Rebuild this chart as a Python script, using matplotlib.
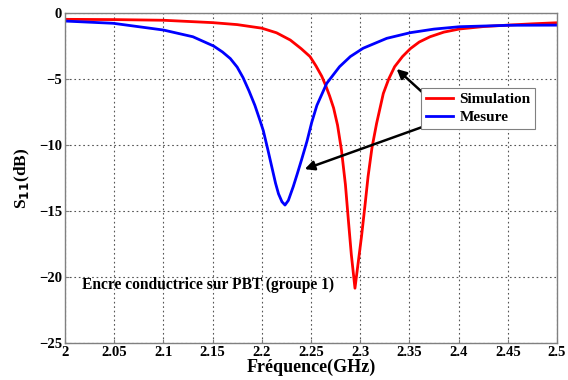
import matplotlib.pyplot as plt

# Simulation (red)
freq_sim = [2.000, 2.050, 2.100, 2.150, 2.175, 2.200, 2.215, 2.229, 2.240, 2.249,
            2.255, 2.261, 2.265, 2.269, 2.273, 2.277, 2.281, 2.285, 2.288, 2.291,
            2.2947, 2.298, 2.3014, 2.305, 2.308, 2.312, 2.3167, 2.3235, 2.329, 2.335,
            2.343, 2.351, 2.360, 2.371, 2.385, 2.401, 2.425, 2.452, 2.475, 2.500]
s11_sim = [-0.48, -0.50, -0.55, -0.73, -0.88, -1.15, -1.5, -2.05, -2.7, -3.3,
           -4.0, -4.8, -5.5, -6.3, -7.2, -8.5, -10.4, -13.0, -15.7, -18.3,
           -20.85, -18.9, -16.9, -14.5, -12.4, -10.2, -8.36, -6.1, -5.0, -4.07,
           -3.3, -2.7, -2.2, -1.8, -1.45, -1.21, -1.03, -0.91, -0.82, -0.74]

# Mesure (blue)
freq_mes = [2.000, 2.049, 2.100, 2.130, 2.151, 2.160, 2.168, 2.175, 2.181, 2.187,
            2.193, 2.198, 2.2015, 2.206, 2.210, 2.214, 2.217, 2.2205, 2.2236, 2.227,
            2.232, 2.236, 2.2405, 2.246, 2.2507, 2.256, 2.266, 2.279, 2.290, 2.303,
            2.327, 2.351, 2.375, 2.401, 2.452, 2.500]
s11_mes = [-0.61, -0.78, -1.29, -1.8, -2.5, -2.95, -3.45, -4.1, -4.9, -5.9,
           -7.0, -8.1, -8.9, -10.3, -11.6, -12.9, -13.7, -14.3, -14.55, -14.2,
           -13.15, -12.2, -11.1, -9.7, -8.3, -7.0, -5.33, -4.07, -3.3, -2.67,
           -1.92, -1.49, -1.22, -1.04, -0.93, -0.92]

xticks = [2, 2.05, 2.1, 2.15, 2.2, 2.25, 2.3, 2.35, 2.4, 2.45, 2.5]
xtick_labels = ['2', '2.05', '2.1', '2.15', '2.2', '2.25', '2.3', '2.35', '2.4', '2.45', '2.5']
yticks = [0, -5, -10, -15, -20, -25]

plt.rcParams['font.family'] = ['Liberation Serif', 'DejaVu Serif']
plt.rcParams['font.weight'] = 'bold'

fig = plt.figure(figsize=(5.68, 3.80), dpi=100)
ax = fig.add_axes([0.1144, 0.0974, 0.8662, 0.8684])

ax.plot(freq_sim, s11_sim, color='#ff0000', lw=2, label='Simulation')
ax.plot(freq_mes, s11_mes, color='#0000ff', lw=2, label='Mesure')

ax.set_xlim(2, 2.5)
ax.set_ylim(-25, 0)
ax.set_xticks(xticks)
ax.set_xticklabels(xtick_labels)
ax.set_yticks(yticks)
ax.grid(True, linestyle=(0, (1.5, 2.5)), color='#555555', lw=0.8)
for s in ax.spines.values():
    s.set_color('#808080')
    s.set_linewidth(1)
ax.tick_params(direction='in', length=3, color='#808080', labelsize=10.5, pad=2)
for lab in ax.get_xticklabels() + ax.get_yticklabels():
    lab.set_fontweight('bold')

ax.set_xlabel('Fréquence(GHz)', fontsize=13, fontweight='bold', labelpad=0)
ax.set_ylabel('S$_{\\mathrm{11}}$(dB)', fontsize=12.5, fontweight='bold', labelpad=5)

leg = ax.legend(loc='upper left', bbox_to_anchor=(0.724, 0.773), fontsize=11,
                handlelength=1.8, handletextpad=0.4, borderpad=0.3,
                labelspacing=0.3, fancybox=False, framealpha=1,
                edgecolor='#808080', borderaxespad=0)
leg.get_frame().set_linewidth(0.8)

ax.annotate('', xy=(2.335, -4.1), xytext=(2.366, -6.2),
            arrowprops=dict(arrowstyle='-|>', color='black', lw=1.8,
                            mutation_scale=14))
ax.annotate('', xy=(2.241, -11.9), xytext=(2.366, -8.56),
            arrowprops=dict(arrowstyle='-|>', color='black', lw=1.8,
                            mutation_scale=14))

ax.text(2.017, -20.6, 'Encre conductrice sur PBT (groupe 1)', fontsize=11.2,
        fontweight='bold', va='center', ha='left')

fig.savefig('out.png', dpi=100)
